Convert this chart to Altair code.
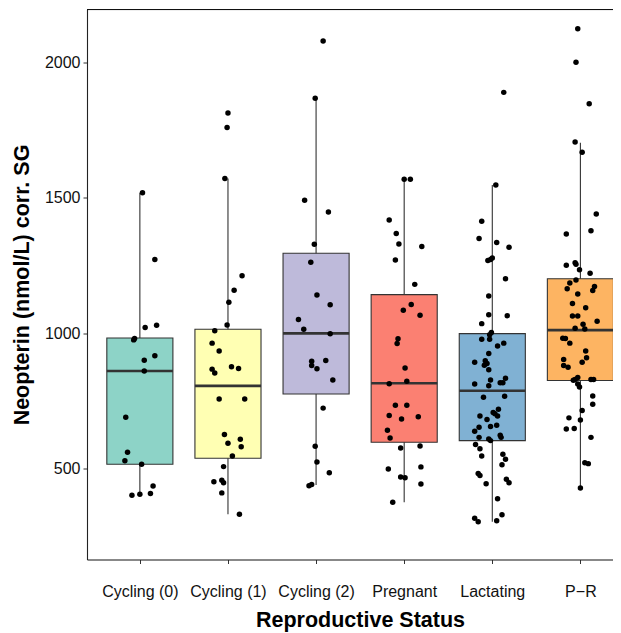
import altair as alt
import pandas as pd

categories = ["Cycling (0)", "Cycling (1)", "Cycling (2)", "Pregnant", "Lactating", "P−R"]
fills = ["#8DD3C7", "#FFFFB3", "#BEBADA", "#FB8072", "#80B1D3", "#FDB462"]

box_low = [402, 331, 439, 375, 303, 428]
box_q1 = [516, 538, 775, 597, 603, 825]
box_med = [860, 805, 999, 815, 787, 1011]
box_q3 = [982, 1014, 1295, 1142, 998, 1201]
box_high = [1518, 1571, 1867, 1568, 1547, 1703]

c0_values = [1518, 1272, 1021, 1029, 980, 975, 916, 900, 860, 689, 560, 529, 516, 435, 401, 405, 408]
c0_jitter = [0.03, 0.17, 0.06, 0.19, -0.06, -0.07, 0.17, 0.05, 0.05, -0.16, -0.14, -0.17, 0.02, 0.15, -0.09, 0.0, 0.12]

c1_values = [1813, 1759, 1571, 1212, 1158, 1114, 1030, 1009, 963, 934, 867, 853, 876, 869, 757, 757,
             626, 608, 593, 580, 546, 507, 451, 457, 447, 410, 331]
c1_jitter = [0.0, -0.01, -0.035, 0.16, 0.07, 0.01, -0.01, -0.15, -0.18, -0.10, -0.18, -0.15, 0.04, 0.12, -0.10, 0.19,
             -0.04, 0.14, 0.0, 0.15, 0.05, -0.05, -0.16, -0.07, -0.05, -0.07, 0.13]

c2_values = [2079, 1867, 1491, 1447, 1328, 1262, 1141, 1105, 1050, 1014, 998, 896, 880, 868, 899, 827,
             723, 582, 524, 484, 436, 441]
c2_jitter = [0.08, -0.01, -0.13, 0.14, -0.02, -0.06, 0.01, 0.16, -0.20, -0.14, 0.16, -0.05, -0.05, 0.01, 0.11, 0.19,
             0.08, -0.01, 0.01, 0.15, -0.08, -0.05]

preg_values = [1568, 1568, 1418, 1368, 1329, 1320, 1270, 1180, 1106, 1084, 1066, 979, 962, 871, 822, 813,
               734, 734, 696, 683, 691, 641, 613, 576, 583, 498, 506, 469, 466, 443, 375]
preg_jitter = [0.0, 0.07, -0.17, -0.09, -0.06, 0.20, -0.10, 0.12, 0.08, -0.01, 0.18, -0.07, -0.08, 0.01, 0.03, -0.17,
               -0.10, 0.03, -0.17, -0.03, 0.16, -0.19, -0.16, -0.04, 0.18, -0.18, 0.19, -0.04, 0.01, 0.19, -0.13]

lact_values = [1889, 1547, 1413, 1349, 1335, 1317, 1268, 1272, 1277, 1201, 1137, 1068, 1064, 1035, 1002, 994,
               977, 977, 963, 952, 925, 892, 898, 888, 881, 865, 827, 833, 817, 817, 806, 812,
               763, 767, 719, 694, 707, 702, 694, 681, 655, 660, 652, 638, 615, 623, 615, 609,
               603, 589, 573, 553, 534, 546, 514, 482, 474, 444, 460, 447, 388, 329, 316, 303, 307]
lact_jitter = [0.13, 0.04, -0.12, -0.15, 0.05, 0.19, -0.05, -0.02, 0.0, 0.15, -0.04, -0.04, 0.17, -0.12, -0.01, -0.03,
               -0.12, -0.03, 0.13, 0.06, -0.04, -0.20, -0.08, -0.06, -0.09, -0.04, -0.02, 0.15, 0.09, 0.12, -0.04, -0.20,
               -0.10, 0.14, 0.07, -0.14, 0.01, 0.03, 0.06, -0.06, -0.02, 0.05, -0.15, -0.20, -0.15, 0.09, 0.10, -0.04,
               -0.02, -0.19, -0.14, 0.12, 0.15, -0.12, 0.11, -0.16, -0.14, -0.07, 0.16, 0.19, 0.06, 0.11, -0.20, -0.16, 0.05]

pr_values = [2124, 2000, 1847, 1706, 1668, 1440, 1378, 1366, 1251, 1260, 1254, 1234, 1221, 1196, 1185, 1164,
             1172, 1157, 1144, 1109, 1094, 1063, 1063, 1044, 1018, 1033, 1015, 981, 980, 963, 934, 903,
             909, 892, 880, 874, 836, 829, 826, 829, 829, 812, 801, 768, 737, 714, 687, 679,
             646, 648, 615, 521, 518, 428]
pr_jitter = [-0.03, -0.05, 0.10, -0.06, 0.02, 0.18, 0.12, -0.16, -0.16, -0.06, -0.05, -0.01, 0.11, -0.05, -0.12, -0.15,
             0.16, 0.14, -0.03, -0.09, 0.06, -0.09, -0.03, 0.19, -0.06, 0.03, 0.05, -0.20, -0.17, -0.12, 0.06, -0.19,
             0.07, 0.02, -0.19, -0.14, -0.03, -0.06, -0.08, 0.12, 0.15, -0.03, -0.01, 0.14, 0.14, 0.02, -0.13, 0.0,
             -0.16, -0.07, 0.12, 0.05, 0.09, 0.0]

groups = [(c0_values, c0_jitter), (c1_values, c1_jitter), (c2_values, c2_jitter),
          (preg_values, preg_jitter), (lact_values, lact_jitter), (pr_values, pr_jitter)]

rows = []
for i, (vals, jit) in enumerate(groups):
    for v, j in zip(vals, jit):
        rows.append({"cat": categories[i], "px": i + 1 + j, "v": v})
points_df = pd.DataFrame(rows)

box_df = pd.DataFrame({
    "cat": categories,
    "pos": list(range(1, len(categories) + 1)),
    "low": box_low, "q1": box_q1, "med": box_med, "q3": box_q3, "high": box_high,
})
box_df["left"] = box_df["pos"] - 0.375
box_df["right"] = box_df["pos"] + 0.375

FONT = "Liberation Sans"
W, H = 526, 550

label_expr = "[" + ",".join("'" + c + "'" for c in categories) + "][datum.value - 1]"

x_scale = alt.Scale(domain=[0.4, 6.37], nice=False, zero=False)
y_scale = alt.Scale(domain=[164, 2195], nice=False, zero=False)

x_axis = alt.Axis(
    values=[1, 2, 3, 4, 5, 6], labelExpr=label_expr, title="Reproductive Status",
    grid=False, domainColor="#222222", domainWidth=1.1, tickColor="#333333", tickSize=4,
    labelFont=FONT, labelFontSize=16, labelColor="#111111", labelPadding=20, labelBaseline="top",
    titleFont=FONT, titleFontSize=21.5, titleFontWeight="bold", titleColor="#000000",
    titleX=273, titleY=61, titleBaseline="middle", titleAlign="center",
)
y_axis = alt.Axis(
    values=[500, 1000, 1500, 2000], format="d", title="Neopterin (nmol/L) corr. SG",
    grid=False, domainColor="#222222", domainWidth=1.1, tickColor="#333333", tickSize=4,
    labelFont=FONT, labelFontSize=16, labelColor="#111111", labelPadding=3,
    titleFont=FONT, titleFontSize=21.5, titleFontWeight="bold", titleColor="#000000",
    titleX=-65, titleY=H / 2, titleAngle=270, titleBaseline="middle", titleAlign="center",
)

whiskers = alt.Chart(box_df).mark_rule(color="#333333", strokeWidth=1.1).encode(
    x=alt.X("pos:Q", scale=x_scale, axis=x_axis),
    y=alt.Y("low:Q", scale=y_scale, axis=y_axis),
    y2="high:Q",
)
boxes = alt.Chart(box_df).mark_rect(stroke="#333333", strokeWidth=1.1, clip=True).encode(
    x=alt.X("left:Q", scale=x_scale, axis=x_axis),
    x2="right:Q",
    y=alt.Y("q1:Q", scale=y_scale, axis=y_axis),
    y2="q3:Q",
    fill=alt.Fill("cat:N", scale=alt.Scale(domain=categories, range=fills), legend=None),
)
medians = alt.Chart(box_df).mark_rule(color="#333333", strokeWidth=2.6, clip=True).encode(
    x=alt.X("left:Q", scale=x_scale, axis=x_axis),
    x2="right:Q",
    y=alt.Y("med:Q", scale=y_scale, axis=y_axis),
)
points = alt.Chart(points_df).mark_circle(size=30, color="#000000", opacity=1).encode(
    x=alt.X("px:Q", scale=x_scale, axis=x_axis),
    y=alt.Y("v:Q", scale=y_scale, axis=y_axis),
)
topline = alt.Chart(box_df).mark_rule(color="#111111", strokeWidth=1).encode(
    x=alt.value(0), x2=alt.value(W), y=alt.value(0)
)

chart = alt.layer(whiskers, boxes, medians, points, topline).properties(
    width=W, height=H,
    autosize=alt.AutoSizeParams(type="none"),
    padding={"left": 79, "top": 1.5, "right": 0, "bottom": 72},
).configure_view(stroke=None).configure(background="white")

chart.save("out.html", embed_options={"renderer": "svg", "actions": False})
